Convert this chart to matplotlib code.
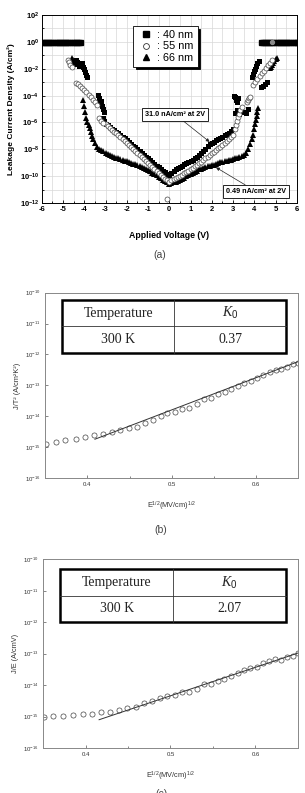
import numpy as np
import matplotlib
matplotlib.use("Agg")
import matplotlib.pyplot as plt
from matplotlib.patches import Rectangle
from matplotlib.ticker import FuncFormatter, MultipleLocator, FixedLocator

plt.rcParams['font.family'] = ['Liberation Sans', 'DejaVu Sans']
plt.rcParams['mathtext.fontset'] = 'custom'
plt.rcParams['mathtext.rm'] = 'Liberation Sans'
plt.rcParams['mathtext.bf'] = 'Liberation Sans:bold'
plt.rcParams['mathtext.it'] = 'Liberation Serif:italic'

# ---------------- (a) leakage current vs applied voltage ----------------
compliance = 1.0  # A/cm^2, instrument compliance level
v_sweep = np.round(np.arange(-3.0, 3.01, 0.1), 1)

logj_40 = [-6.10, -6.22, -6.32, -6.45, -6.55, -6.68, -6.80, -6.92, -7.05, -7.18,
           -7.30, -7.45, -7.58, -7.72, -7.85, -7.98, -8.12, -8.25, -8.40, -8.55,
           -8.68, -8.82, -8.96, -9.10, -9.22, -9.35, -9.48, -9.60, -9.72, -9.83,
           -9.95, -9.75, -9.62, -9.50, -9.40, -9.30, -9.22, -9.13, -9.05, -8.95,
           -8.88, -8.78, -8.66, -8.55, -8.43, -8.30, -8.12, -7.95, -7.78, -7.62,
           -7.50, -7.42, -7.33, -7.25, -7.16, -7.06, -6.96, -6.86, -6.75, -6.62,
           -6.48]
logj_55 = [-6.15, -6.28, -6.42, -6.55, -6.68, -6.82, -6.95, -7.10, -7.25, -7.40,
           -7.54, -7.68, -7.83, -7.98, -8.12, -8.27, -8.42, -8.56, -8.72, -8.86,
           -9.00, -9.15, -9.30, -9.45, -9.60, -9.75, -9.90, -10.05, -10.18, -10.30,
           -10.40, -10.30, -10.22, -10.15, -10.08, -10.00, -9.90, -9.80, -9.70, -9.60,
           -9.50, -9.38, -9.27, -9.15, -9.04, -8.92, -8.80, -8.68, -8.55, -8.42,
           -8.30, -8.18, -8.05, -7.92, -7.80, -7.65, -7.52, -7.38, -7.25, -7.10,
           -6.95]
logj_66 = [-8.25, -8.32, -8.40, -8.48, -8.55, -8.62, -8.68, -8.74, -8.80, -8.85,
           -8.90, -8.95, -9.00, -9.06, -9.12, -9.18, -9.25, -9.32, -9.40, -9.48,
           -9.55, -9.65, -9.75, -9.85, -9.95, -10.05, -10.15, -10.25, -10.35, -10.45,
           -10.60, -10.52, -10.45, -10.40, -10.35, -10.28, -10.20, -10.12, -10.02, -9.92,
           -9.82, -9.74, -9.66, -9.58, -9.50, -9.43, -9.38, -9.33, -9.28, -9.24,
           -9.20, -9.14, -9.08, -9.02, -8.97, -8.92, -8.88, -8.84, -8.80, -8.76,
           -8.72]

# breakdown tails (voltage, log10 J)
tail_v_40 = [-4.4, -4.35, -4.3, -4.25, -4.1, -4.05, -4.0, -3.95, -3.9, -3.85,
             -3.35, -3.3, -3.25, -3.2, -3.15, -3.1, -3.05, -3.1, -3.05,
             3.05, 3.1, 3.15, 3.2, 3.25, 3.1, 3.2, 3.3, 3.5, 3.6, 3.7,
             3.9, 3.95, 4.0, 4.05, 4.1, 4.15, 4.2, 4.3, 4.4, 4.5, 4.6]
tail_j_40 = [-1.35, -1.5, -1.65, -1.8, -1.6, -1.85, -2.05, -2.25, -2.45, -2.6,
             -3.95, -4.2, -4.5, -4.4, -4.8, -5.0, -5.2, -5.7, -5.9,
             -4.0, -4.1, -4.3, -4.45, -4.2, -5.3, -5.1, -5.4, -5.2, -5.3, -5.0,
             -2.6, -2.4, -2.2, -2.0, -1.8, -1.6, -1.4, -3.35, -3.25, -3.1, -3.0]
tail_v_55 = [-4.75, -4.7, -4.65, -4.6, -4.4, -4.3, -4.2, -4.1, -4.0, -3.9,
             -3.8, -3.7, -3.6, -3.5, -3.4, -3.3, -3.2, -3.1, -0.1,
             3.1, 3.15, 3.2, 3.25, 3.3, 3.35, 3.4, 3.65, 3.7, 3.75, 3.8,
             3.95, 4.05, 4.15, 4.25, 4.35, 4.45, 4.55, 4.65, 4.75, 4.85]
tail_j_55 = [-1.35, -1.5, -1.7, -1.85, -3.05, -3.15, -3.3, -3.45, -3.6, -3.75,
             -3.95, -4.1, -4.3, -4.5, -4.7, -5.7, -5.9, -6.05, -11.7,
             -6.5, -6.2, -5.9, -5.6, -5.35, -5.1, -4.85, -4.5, -4.35, -4.2, -4.1,
             -3.2, -2.95, -2.75, -2.55, -2.35, -2.15, -1.95, -1.75, -1.55, -1.35]
tail_v_66 = [-4.6, -4.55, -4.5, -4.45,
             -4.05, -4.0, -3.95, -3.9, -3.85, -3.8, -3.75, -3.7, -3.65, -3.6,
             -3.5, -3.4, -3.3, -3.2, -3.1,
             3.1, 3.2, 3.3, 3.4, 3.5, 3.6, 3.7, 3.8, 3.9, 3.95, 4.0, 4.05,
             4.1, 4.12, 4.15, 4.18,
             4.75, 4.8, 4.85, 4.9, 4.95, 5.0, 5.05]
tail_j_66 = [-1.2, -1.35, -1.5, -1.65,
             -4.3, -4.8, -5.2, -5.7, -5.95, -6.2, -6.4, -6.7, -7.0, -7.2,
             -7.5, -7.8, -7.95, -8.05, -8.15,
             -8.68, -8.64, -8.6, -8.5, -8.4, -8.25, -8.0, -7.6, -7.2, -6.9, -6.5, -6.1,
             -5.8, -5.5, -5.2, -4.9,
             -1.95, -1.85, -1.7, -1.6, -1.45, -1.3, -1.2]

sat_v_40 = np.round(np.concatenate([np.arange(-6.0, -4.15, 0.1), np.arange(4.3, 6.01, 0.1)]), 1)
sat_v_55 = [4.85]

# ---------------- (b) Schottky plot / (c) Poole-Frenkel plot ----------------
sqrt_e_b = [0.351, 0.363, 0.374, 0.386, 0.397, 0.408, 0.419, 0.429, 0.439, 0.449,
            0.459, 0.468, 0.478, 0.487, 0.494, 0.504, 0.512, 0.521, 0.530, 0.538,
            0.547, 0.555, 0.563, 0.570, 0.578, 0.586, 0.594, 0.601, 0.608, 0.616,
            0.623, 0.630, 0.637, 0.644, 0.650]
log_jt2 = [-14.89, -14.84, -14.78, -14.73, -14.67, -14.62, -14.56, -14.50, -14.44, -14.37,
           -14.33, -14.20, -14.12, -13.99, -13.90, -13.87, -13.76, -13.72, -13.60, -13.44,
           -13.41, -13.28, -13.20, -13.12, -13.03, -12.93, -12.86, -12.77, -12.66, -12.58,
           -12.50, -12.48, -12.39, -12.31, -12.26]
fit_x_b = [0.409, 0.650]
fit_y_b = [-14.74, -12.23]

sqrt_e_c = [0.351, 0.362, 0.374, 0.385, 0.397, 0.408, 0.418, 0.429, 0.439, 0.449,
            0.459, 0.469, 0.478, 0.488, 0.496, 0.505, 0.513, 0.522, 0.531, 0.539,
            0.548, 0.556, 0.563, 0.571, 0.579, 0.587, 0.594, 0.602, 0.609, 0.616,
            0.623, 0.630, 0.637, 0.644, 0.650]
log_je = [-15.00, -14.99, -14.98, -14.96, -14.93, -14.91, -14.87, -14.84, -14.80, -14.74,
          -14.71, -14.56, -14.51, -14.40, -14.33, -14.30, -14.21, -14.22, -14.12, -13.97,
          -13.95, -13.87, -13.81, -13.70, -13.62, -13.53, -13.47, -13.42, -13.30, -13.24,
          -13.17, -13.19, -13.11, -13.07, -12.98]
fit_x_c = [0.416, 0.650]
fit_y_c = [-15.10, -12.98]

k0_b = "0.37"
k0_c = "2.07"
temperature = "300 K"

fig = plt.figure(figsize=(3.05, 7.93), dpi=100)

# ---------- panel (a) ----------
ax = fig.add_axes([0.137, 0.744, 0.836, 0.237])
ms = 3.6
ax.plot(sat_v_40, np.full(len(sat_v_40), compliance), 's', color='k', ms=ms, zorder=3)
ax.plot(v_sweep, 10.0 ** np.array(logj_40), 's', color='k', ms=ms, mew=0, zorder=3)
ax.plot(tail_v_40, 10.0 ** np.array(tail_j_40), 's', color='k', ms=ms, mew=0, zorder=3)
ax.plot(v_sweep, 10.0 ** np.array(logj_66), '^', color='k', ms=ms + 0.5, mew=0, zorder=3)
ax.plot(tail_v_66, 10.0 ** np.array(tail_j_66), '^', color='k', ms=ms + 0.5, mew=0, zorder=3)
ax.plot(v_sweep, 10.0 ** np.array(logj_55), 'o', mfc='white', mec='#444444', mew=0.5,
        ms=ms, zorder=4)
ax.plot(tail_v_55, 10.0 ** np.array(tail_j_55), 'o', mfc='white', mec='#444444', mew=0.5,
        ms=ms, zorder=4)
ax.plot(sat_v_55, [compliance], 'o', mfc='#888888', mec='#888888', ms=ms - 0.8, zorder=4)

# legend proxies
h40, = ax.plot([], [], 's', color='k', ms=3.8)
h55, = ax.plot([], [], 'o', mfc='white', mec='#333333', mew=0.6, ms=4.2)
h66, = ax.plot([], [], '^', color='k', ms=4.4)
leg = ax.legend([h40, h55, h66], [': 40 nm', ': 55 nm', ': 66 nm'],
                loc='upper left', bbox_to_anchor=(0.358, 0.94), fontsize=7.8,
                frameon=True, fancybox=False, edgecolor='k',
                shadow={'color': 'k', 'alpha': 1.0, 'ox': 2, 'oy': -2},
                handlelength=1.6, handletextpad=0.3, labelspacing=0.12,
                borderpad=0.35, borderaxespad=0.0)
leg.get_frame().set_linewidth(0.6)

box = dict(boxstyle='square,pad=0.4', fc='white', ec='k', lw=0.6)
arrow = dict(arrowstyle='-|>', color='#222222', lw=0.5, mutation_scale=5,
             shrinkA=0, shrinkB=0)
ax.annotate('31.0 nA/cm² at 2V', xy=(1.9, 10 ** -7.45), xytext=(0.27, 10 ** -5.4),
            fontsize=5.2, fontweight='bold', ha='center', va='center',
            bbox=box, arrowprops=arrow, zorder=6)
ax.annotate('0.49 nA/cm² at 2V', xy=(2.2, 10 ** -9.35), xytext=(4.1, 10 ** -11.15),
            fontsize=5.2, fontweight='bold', ha='center', va='center',
            bbox=box, arrowprops=arrow, zorder=6)

ax.set_yscale('log')
ax.set_xlim(-6, 6)
ax.set_ylim(1e-12, 1e2)
ax.xaxis.set_major_locator(MultipleLocator(1))
ax.xaxis.set_minor_locator(MultipleLocator(0.5))
ax.yaxis.set_major_locator(FixedLocator([10.0 ** k for k in range(-12, 3, 2)]))
ax.yaxis.set_minor_locator(FixedLocator([10.0 ** k for k in range(-11, 2, 2)]))
ax.yaxis.set_major_formatter(FuncFormatter(lambda v, p: r'$\mathbf{10^{%d}}$' % round(np.log10(v))))
ax.yaxis.set_minor_formatter(FuncFormatter(lambda v, p: ''))
ax.xaxis.set_major_formatter(FuncFormatter(lambda v, p: '%d' % v))
ax.grid(True, which='both', color='#d8d8d8', lw=0.5)
ax.set_axisbelow(True)
ax.tick_params(which='both', direction='in', width=0.6, labelsize=5.5, pad=2)
ax.tick_params(which='major', length=2.5)
ax.tick_params(which='minor', length=1.5)
for lab in ax.get_xticklabels():
    lab.set_fontweight('bold')
for s in ax.spines.values():
    s.set_linewidth(0.7)
ax.set_xlabel('Applied Voltage (V)', fontsize=6.3, fontweight='bold', labelpad=13)
ax.set_ylabel('Leakage Current Density (A/cm²)', fontsize=6, fontweight='bold', labelpad=3)
fig.text(0.525, 1 - 255 / 793, '(a)', ha='center', va='center', fontsize=7.5, color='#444444')


def draw_table(ax, x0, x1, y0, y1, xmid, k0):
    ax.add_patch(Rectangle((x0, y0), x1 - x0, y1 - y0, transform=ax.transAxes,
                           fc='white', ec='k', lw=1.8, zorder=5))
    ymid = (y0 + y1) / 2
    ax.plot([x0, x1], [ymid, ymid], transform=ax.transAxes, color='#333333', lw=0.6, zorder=6)
    ax.plot([xmid, xmid], [y0, y1], transform=ax.transAxes, color='#333333', lw=0.6, zorder=6)
    c1 = (x0 + xmid) / 2
    c2 = (xmid + x1) / 2
    r1 = (ymid + y1) / 2
    r2 = (y0 + ymid) / 2
    kw = dict(transform=ax.transAxes, ha='center', va='center', fontsize=10,
              family='Liberation Serif', color='#222222', zorder=7)
    ax.text(c1, r1, 'Temperature', **kw)
    ax.text(c2, r1, r'$\mathit{K_0}$', **kw)
    ax.text(c1, r2, temperature, **kw)
    ax.text(c2, r2, k0, **kw)


def style_fit_axes(ax, ylabel):
    ax.set_yscale('log')
    ax.set_xlim(0.35, 0.65)
    ax.set_ylim(1e-16, 1e-10)
    ax.xaxis.set_major_locator(FixedLocator([0.4, 0.5, 0.6]))
    ax.xaxis.set_minor_locator(FixedLocator([0.45, 0.55]))
    ax.yaxis.set_major_locator(FixedLocator([10.0 ** k for k in range(-16, -9)]))
    ax.yaxis.set_minor_locator(FixedLocator([]))
    ax.yaxis.set_major_formatter(FuncFormatter(lambda v, p: r'$10^{%d}$' % round(np.log10(v))))
    ax.xaxis.set_major_formatter(FuncFormatter(lambda v, p: '%.1f' % v))
    ax.tick_params(which='both', direction='in', width=0.5, labelsize=4.3,
                   colors='#555555', labelcolor='#333333', pad=3)
    ax.tick_params(which='major', length=2.5)
    ax.tick_params(which='minor', length=1.5)
    for s in ax.spines.values():
        s.set_color('#888888')
        s.set_linewidth(0.7)
    ax.set_xlabel(r'E$^{1/2}$(MV/cm)$^{1/2}$', fontsize=5.3, color='#333333', labelpad=9)
    ax.set_ylabel(ylabel, fontsize=5.3, color='#333333', labelpad=3)


# ---------- panel (b) ----------
axb = fig.add_axes([0.148, 0.397, 0.830, 0.234])
axb.plot(sqrt_e_b, 10.0 ** np.array(log_jt2), 'o', mfc='none', mec='#444444', mew=0.5, ms=3.7)
axb.plot(fit_x_b, 10.0 ** np.array(fit_y_b), '-', color='#333333', lw=0.7)
style_fit_axes(axb, 'J/T² (A/cm²K²)')
draw_table(axb, 0.067, 0.953, 0.677, 0.961, 0.51, k0_b)
fig.text(0.528, 1 - 530 / 793, '(b)', ha='center', va='center', fontsize=7.5, color='#444444')

# ---------- panel (c) ----------
axc = fig.add_axes([0.141, 0.0567, 0.836, 0.238])
axc.plot(sqrt_e_c, 10.0 ** np.array(log_je), 'o', mfc='none', mec='#444444', mew=0.5, ms=3.7)
axc.plot(fit_x_c, 10.0 ** np.array(fit_y_c), '-', color='#333333', lw=0.7)
style_fit_axes(axc, 'J/E (A/cmV)')
draw_table(axc, 0.067, 0.953, 0.667, 0.947, 0.51, k0_c)
fig.text(0.528, 1 - 794 / 793, '(c)', ha='center', va='center', fontsize=7.5, color='#444444')

fig.savefig('out.png', dpi=100, facecolor='white')
